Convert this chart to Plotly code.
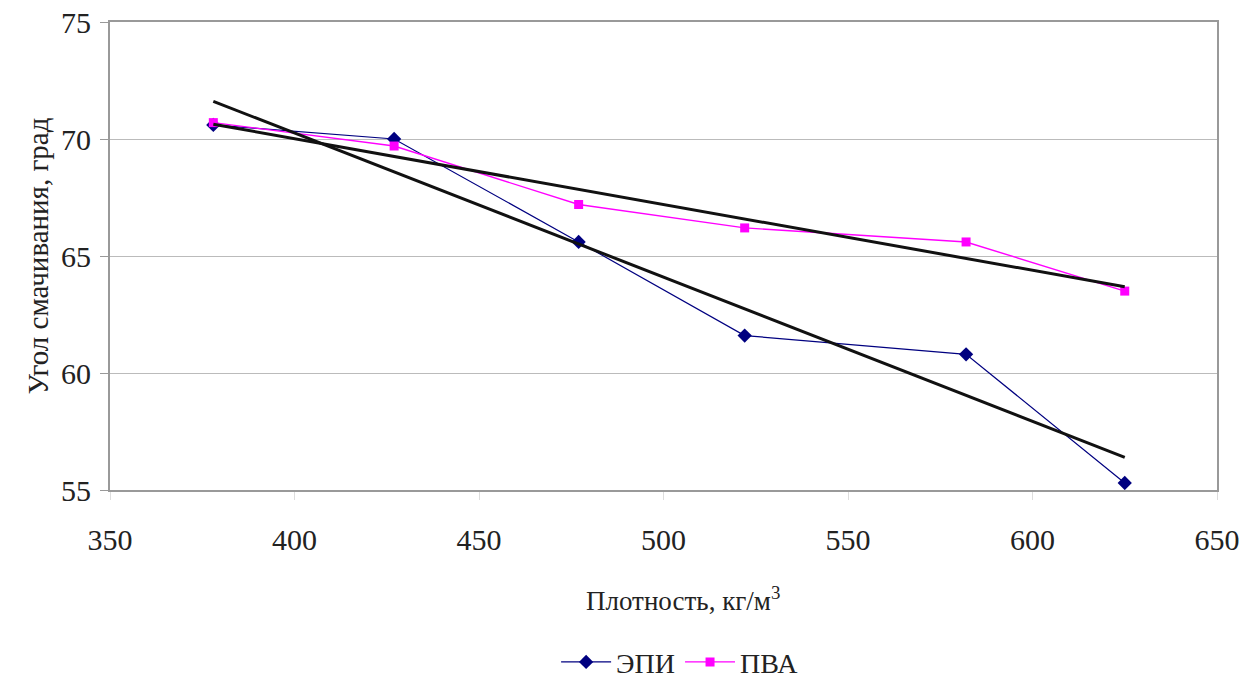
import numpy as np
import plotly.graph_objects as go

# Density, kg/m^3
density = [378, 427, 477, 522, 582, 625]
# Wetting angle, degrees
epi_angle = [70.6, 70.0, 65.6, 61.6, 60.8, 55.3]
pva_angle = [70.7, 69.7, 67.2, 66.2, 65.6, 63.5]

x_ticks = [350, 400, 450, 500, 550, 600, 650]
y_ticks = [55, 60, 65, 70, 75]

serif = "Liberation Serif, Times New Roman, serif"

fig = go.Figure()

fig.add_trace(go.Scatter(
    x=density, y=epi_angle, name="ЭПИ", mode="lines+markers",
    line=dict(color="#000080", width=1.2),
    marker=dict(symbol="diamond", size=11, color="#000080"),
))
fig.add_trace(go.Scatter(
    x=density, y=pva_angle, name="ПВА", mode="lines+markers",
    line=dict(color="#FF00FF", width=1.4),
    marker=dict(symbol="square", size=9, color="#FF00FF"),
))

# Linear trend lines for both series
xd = np.array(density, dtype=float)
for series in (epi_angle, pva_angle):
    k, b = np.polyfit(xd, np.array(series, dtype=float), 1)
    xs = np.array([xd.min(), xd.max()])
    fig.add_trace(go.Scatter(
        x=xs, y=k * xs + b, mode="lines", showlegend=False,
        line=dict(color="#111111", width=3), hoverinfo="skip",
    ))

fig.update_layout(
    width=1254, height=686,
    margin=dict(l=110, r=37, t=22, b=196, autoexpand=False),
    paper_bgcolor="white", plot_bgcolor="white",
    font=dict(family=serif, color="#222222"),
    showlegend=True,
    legend=dict(
        orientation="h", x=0.515, xanchor="center", y=-0.368, yanchor="middle",
        font=dict(size=28, family=serif), itemwidth=50, tracegroupgap=0,
    ),
    annotations=[dict(
        text="Плотность, кг/м<sup>3</sup>", xref="paper", yref="paper",
        x=0.518, y=-0.232, xanchor="center", yanchor="middle", showarrow=False,
        font=dict(size=27, family=serif, color="#222222"),
    )],
)

fig.update_xaxes(
    range=[350, 650], tickvals=x_ticks, ticks="outside", ticklen=8,
    tickcolor="#dddddd", tickfont=dict(size=30, family=serif),
    ticklabelstandoff=14, automargin=False,
    showgrid=False, zeroline=False,
    showline=True, linecolor="#999999", linewidth=2, mirror=True,
)
fig.update_yaxes(
    range=[55, 75], tickvals=y_ticks, ticks="outside", ticklen=8,
    tickcolor="#999999", tickfont=dict(size=30, family=serif),
    ticklabelstandoff=3, automargin=False,
    showgrid=True, gridcolor="#bbbbbb", gridwidth=1, zeroline=False,
    showline=True, linecolor="#999999", linewidth=2, mirror=True,
    title=dict(text="Угол смачивания, град", font=dict(size=29, family=serif), standoff=4),
)

fig.write_html("out.html")
